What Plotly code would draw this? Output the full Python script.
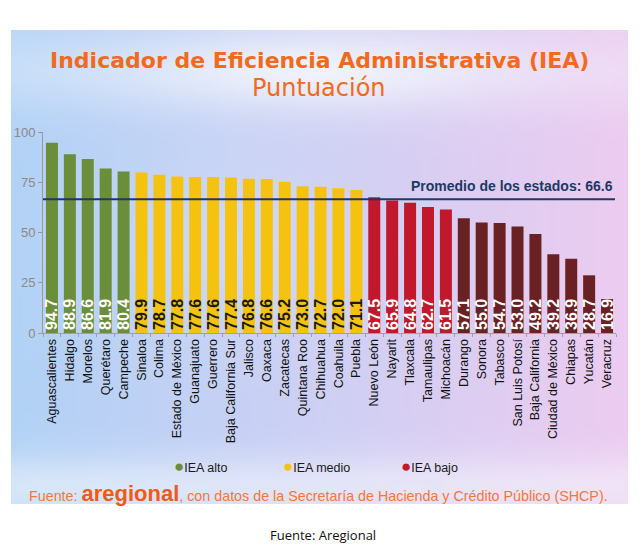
import base64, struct, zlib
import numpy as np
import plotly.graph_objects as go

# ---------------- data ----------------
estados = ["Aguascalientes", "Hidalgo", "Morelos", "Querétaro", "Campeche",
           "Sinaloa", "Colima", "Estado de México", "Guanajuato", "Guerrero",
           "Baja California Sur", "Jalisco", "Oaxaca", "Zacatecas", "Quintana Roo",
           "Chihuahua", "Coahuila", "Puebla", "Nuevo León", "Nayarit", "Tlaxcala",
           "Tamaulipas", "Michoacán", "Durango", "Sonora", "Tabasco",
           "San Luis Potosí", "Baja California", "Ciudad de México", "Chiapas",
           "Yucatán", "Veracruz"]
puntuacion = [94.7, 88.9, 86.6, 81.9, 80.4, 79.9, 78.7, 77.8, 77.6, 77.6,
              77.4, 76.8, 76.6, 75.2, 73.0, 72.7, 72.0, 71.1, 67.5, 65.9, 64.8,
              62.7, 61.5, 57.1, 55.0, 54.7, 53.0, 49.2, 39.2, 36.9, 28.7, 16.9]
nivel = (["alto"] * 5 + ["medio"] * 13 + ["bajo"] * 5 + ["muy bajo"] * 9)
promedio = 66.6
y_ticks = [0, 25, 50, 75, 100]

# ---------------- styles ----------------
bar_colors = {"alto": "#6b8e3b", "medio": "#f5c30f", "bajo": "#c0192b", "muy bajo": "#6a2124"}
txt_colors = {"alto": "white", "medio": "#1a1a1a", "bajo": "white", "muy bajo": "white"}
ORANGE = "#f26a1c"

# plot area in pixels
L, R, T, B = 43, 616, 132, 333
W, H = 640, 556


def px(x):
    return (x - L) / (R - L)


def py(y):
    return (B - y) / (B - T)


# ---------------- background gradient (png data uri) ----------------
def make_png(arr):
    h, w, _ = arr.shape
    raw = b"".join(b"\x00" + arr[i].tobytes() for i in range(h))

    def chunk(tag, data):
        c = struct.pack(">I", len(data)) + tag + data
        return c + struct.pack(">I", zlib.crc32(tag + data) & 0xffffffff)

    png = b"\x89PNG\r\n\x1a\n"
    png += chunk(b"IHDR", struct.pack(">IIBBBBB", w, h, 8, 2, 0, 0, 0))
    png += chunk(b"IDAT", zlib.compress(raw, 9))
    png += chunk(b"IEND", b"")
    return "data:image/png;base64," + base64.b64encode(png).decode()


gw, gh = 124, 96
u = np.linspace(0, 1, gw)[None, :, None]
v = np.linspace(0, 1, gh)[:, None, None]
cL = np.array([178, 210, 246.0])
cM = np.array([206, 208, 244.0])
cR = np.array([236, 204, 240.0])
t1 = np.clip(u / 0.5, 0, 1)
t2 = np.clip((u - 0.5) / 0.5, 0, 1)
base = np.where(u < 0.5, cL * (1 - t1) + cM * t1, cM * (1 - t2) + cR * t2)
white = np.array([246, 248, 253.0])
top = np.exp(-((v - 0.08) / 0.09) ** 2) * (0.3 + 0.55 * np.exp(-((u - 0.5) / 0.3) ** 2))
bot = np.exp(-((v - 0.97) / 0.07) ** 2) * 0.55
mid = np.exp(-((v - 0.45) / 0.2) ** 2) * np.exp(-((u - 0.35) / 0.2) ** 2) * 0.2
k = np.clip(top + bot + mid, 0, 0.9)
img = base * (1 - k) + white * k
img = np.clip(img, 0, 255).astype(np.uint8)
bg_uri = make_png(img)

# ---------------- figure ----------------
fig = go.Figure()
fig.add_trace(go.Bar(
    x=estados,
    y=puntuacion,
    marker=dict(color=[bar_colors[n] for n in nivel], line=dict(width=0)),
    text=[f"{p:.1f}" for p in puntuacion],
    textposition="inside",
    insidetextanchor="start",
    textangle=-90,
    constraintext="none",
    textfont=dict(family="Arial, Liberation Sans", size=16,
                  color=[txt_colors[n] for n in nivel], weight="bold"),
    hoverinfo="x+y",
))

fig.add_shape(type="line", xref="paper", yref="y", x0=0, x1=px(615),
              y0=promedio, y1=promedio, line=dict(color="#1f3864", width=2), layer="above")

ann = []
ann.append(dict(text="Indicador de Eficiencia Administrativa (IEA)", xref="paper", yref="paper",
                x=px(319), y=py(60), xanchor="center", yanchor="middle", showarrow=False,
                font=dict(family="DejaVu Sans", size=22, color=ORANGE, weight="bold")))
ann.append(dict(text="Puntuación", xref="paper", yref="paper",
                x=px(319), y=py(88), xanchor="center", yanchor="middle", showarrow=False,
                font=dict(family="DejaVu Sans", size=24, color=ORANGE)))
ann.append(dict(text=f"Promedio de los estados: {promedio}", xref="paper", yref="y",
                x=px(615), y=promedio, xanchor="right", yanchor="bottom", yshift=3,
                showarrow=False,
                font=dict(family="Arial, Liberation Sans", size=14, color="#1f3864", weight="bold")))
for lab, key, xpos in [("IEA alto", "alto", 172), ("IEA medio", "medio", 281), ("IEA bajo", "bajo", 399)]:
    ann.append(dict(text=f'<span style="color:{bar_colors[key]};font-size:17px">●</span>{lab}',
                    xref="paper", yref="paper", x=px(xpos), y=py(467), xanchor="left",
                    yanchor="middle", showarrow=False,
                    font=dict(family="Liberation Sans Narrow, Arial", size=12.5, color="#1a1a1a")))
ann.append(dict(text='Fuente: <span style="font-size:22px;color:#f05a14"><b>aregional</b></span>, '
                     'con datos de la Secretaría de Hacienda y Crédito Público (SHCP).',
                xref="paper", yref="paper", x=px(318), y=py(493), xanchor="center",
                yanchor="middle", showarrow=False,
                font=dict(family="Arial, Liberation Sans", size=14.3, color="#f4773a")))
ann.append(dict(text="Fuente: Aregional", xref="paper", yref="paper", x=px(323), y=py(535),
                xanchor="center", yanchor="middle", showarrow=False,
                font=dict(family="Open Sans", size=13, color="#111111")))

fig.update_layout(
    width=W, height=H, autosize=False,
    margin=dict(l=L, r=W - R, t=T, b=H - B, pad=0),
    paper_bgcolor="white", plot_bgcolor="rgba(0,0,0,0)",
    showlegend=False, bargap=0.33,
    annotations=ann,
    images=[dict(source=bg_uri, xref="paper", yref="paper", x=px(11), y=py(30),
                 sizex=px(628) - px(11), sizey=py(30) - py(504), sizing="stretch",
                 xanchor="left", yanchor="top", layer="below")],
    xaxis=dict(tickangle=-90, tickfont=dict(family="Arial, Liberation Sans", size=12.5, color="#111"),
               showline=True, linecolor="#a0a0a0", linewidth=1, ticks="outside",
               tickson="boundaries", ticklen=3, tickcolor="#a0a0a0", showgrid=False,
               fixedrange=True),
    yaxis=dict(range=[0, 100], tickvals=y_ticks, showgrid=False, zeroline=False,
               showline=True, linecolor="#9a9a9a", linewidth=1, ticks="outside",
               ticklen=4, tickcolor="#9a9a9a",
               tickfont=dict(family="Arial, Liberation Sans", size=13, color="#8a8a8a"),
               fixedrange=True),
)

fig.write_html("out.html")
